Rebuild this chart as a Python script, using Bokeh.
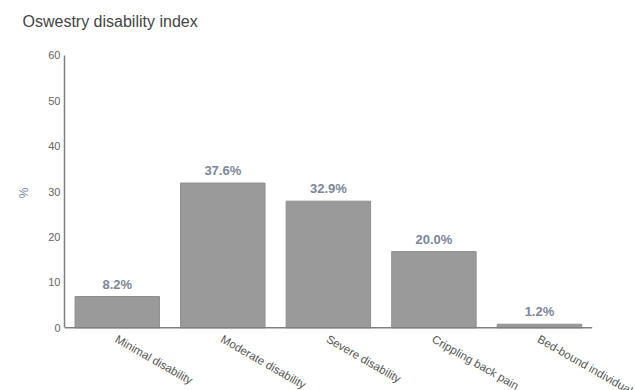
import numpy as np
from bokeh.plotting import figure
from bokeh.models import ColumnDataSource, FixedTicker, Range1d, LabelSet, Title
from bokeh.core.properties import value
from bokeh.embed import file_html
from bokeh.resources import INLINE

categories = ["Minimal disability", "Moderate disability", "Severe disability",
              "Crippling back pain", "Bed-bound individuals"]
bar_heights = [6.9, 31.9, 27.9, 16.8, 0.8]
value_labels = ["8.2%", "37.6%", "32.9%", "20.0%", "1.2%"]
y_ticks = [0, 10, 20, 30, 40, 50, 60]
title_text = "Oswestry disability index"
y_label = "%"

FONT = "Liberation Sans"
W, H = 635, 390
LEFT, TOP = 64, 40
AXIS_MAX = 60
Y_MIN, Y_MAX = -13.8, 63.3
X_MIN, X_MAX = -0.5, 4.91

xs = np.arange(len(categories))
src = ColumnDataSource(dict(x=xs, cat=categories, h=bar_heights, lab=value_labels,
                            zero=[0] * len(categories)))

p = figure(x_range=Range1d(X_MIN, X_MAX), y_range=Range1d(Y_MIN, Y_MAX),
           width=W, height=H, output_backend="svg", toolbar_location=None,
           title=title_text)
p.min_border_left = LEFT
p.min_border_right = 0
p.min_border_top = TOP
p.min_border_bottom = 0

p.title.text_font = FONT
p.title.text_font_size = "16px"
p.title.text_font_style = "normal"
p.title.text_color = "#444444"
p.title.align = "left"
p.title.offset = -42
p.title.standoff = 21

p.add_layout(Title(text=y_label, align="right", offset=147, text_font=FONT,
                   text_font_size="12px", text_font_style="normal",
                   text_color="#7d8699", standoff=29), "left")

p.vbar(x="x", top="h", width=0.8, source=src, fill_color="#9a9a9a",
       line_color="#8f8f8f")
p.segment(x0=[xs[0] - 0.5], y0=[0], x1=[xs[-1] + 0.5], y1=[0],
          line_color="#808080", line_width=1.5)

p.add_layout(LabelSet(x="x", y="h", text="lab", source=src, text_align="center",
                      y_offset=5, text_font_size="13px", text_font_style="bold",
                      text_color="#7d8699", text_font=value(FONT)))

p.add_layout(LabelSet(x="x", y="zero", text="cat", source=src,
                      text_align="left", text_baseline="top", angle=-0.52,
                      x_offset=2, y_offset=-5, text_font_size="11.5px",
                      text_color="#555555", text_font=value(FONT)))

p.xgrid.visible = False
p.ygrid.visible = False
p.outline_line_color = None
p.xaxis.visible = False

p.yaxis.ticker = FixedTicker(ticks=y_ticks)
p.yaxis.bounds = (0, AXIS_MAX)
p.yaxis.major_label_text_font = FONT
p.yaxis.major_label_text_font_size = "11px"
p.yaxis.major_label_text_color = "#666666"
p.yaxis.major_label_standoff = 4
p.yaxis.minor_tick_line_color = None
p.yaxis.major_tick_in = 0
p.yaxis.major_tick_out = 0
p.yaxis.axis_line_color = "#808080"
p.yaxis.axis_line_width = 1.5

open("out.html", "w").write(file_html(p, INLINE))
